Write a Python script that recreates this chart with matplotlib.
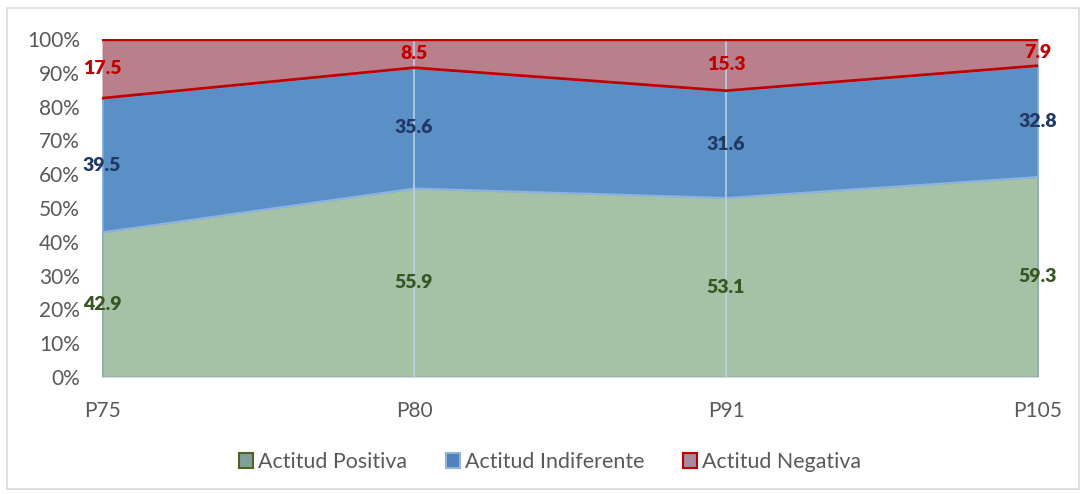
import matplotlib.pyplot as plt
import numpy as np
from matplotlib.patches import Rectangle

plt.rcParams['font.family'] = ['Lato', 'DejaVu Sans']

categorias = ['P75', 'P80', 'P91', 'P105']
positiva = [42.9, 55.9, 53.1, 59.3]
indiferente = [39.5, 35.6, 31.6, 32.8]
negativa = [17.5, 8.5, 15.3, 7.9]
series = ['Actitud Positiva', 'Actitud Indiferente', 'Actitud Negativa']

x = np.arange(len(categorias))
pos = np.array(positiva)
ind = np.array(indiferente)
neg = np.array(negativa)
total = pos + ind + neg
p_pos = pos / total * 100
p_ind = ind / total * 100
p_neg = neg / total * 100
c1 = p_pos
c2 = c1 + p_ind
c3 = c2 + p_neg

fig = plt.figure(figsize=(10.84, 4.94), dpi=100)
ax = fig.add_axes([102 / 1084, 1 - 377 / 494, (1038 - 102) / 1084, (377 - 39) / 494])

# borde del gráfico
fig.patches.append(Rectangle((7 / 1084, 5 / 494), 1072 / 1084, 481 / 494,
                             transform=fig.transFigure, fill=False,
                             edgecolor='#d9d9d9', linewidth=1.2))

ax.fill_between(x, 0, c1, color='#a6c2a6', edgecolor='#8fa8a8', linewidth=1.5, zorder=2)
ax.fill_between(x, c1, c2, color='#5b90c6', edgecolor='#8db3e2', linewidth=1.5, zorder=2)
ax.fill_between(x, c2, c3, color='#b97f8b', linewidth=0, zorder=2)
ax.plot(x, c2, color='#c00000', linewidth=2, zorder=4)
ax.plot(x, c3, color='#c00000', linewidth=2.5, zorder=4)

for xi in x[1:-1]:
    ax.axvline(xi, color='#b8cfe6', linewidth=1.2, zorder=3)

for i in range(len(x)):
    ax.text(x[i], c1[i] / 2, f'{positiva[i]:.1f}', ha='center', va='center',
            color='#375623', fontsize=14, fontweight='heavy', zorder=5)
    ax.text(x[i], (c1[i] + c2[i]) / 2, f'{indiferente[i]:.1f}', ha='center', va='center',
            color='#1f3864', fontsize=14, fontweight='heavy', zorder=5)
    ax.text(x[i], (c2[i] + c3[i]) / 2, f'{negativa[i]:.1f}', ha='center', va='center',
            color='#c00000', fontsize=14, fontweight='heavy', zorder=5)

ax.set_xlim(0, len(x) - 1)
ax.set_ylim(0, 100)
ax.set_yticks(np.arange(0, 101, 10))
ax.set_yticklabels([f'{v}%' for v in range(0, 101, 10)])
ax.set_xticks(x)
ax.set_xticklabels(categorias)
ax.tick_params(axis='both', length=0, labelsize=15, labelcolor='#595959')
ax.tick_params(axis='x', pad=17)
ax.tick_params(axis='y', pad=16)
for s in ['top', 'right', 'left']:
    ax.spines[s].set_visible(False)
ax.spines['bottom'].set_color('#d9d9d9')
ax.spines['bottom'].set_zorder(6)

handles = [
    Rectangle((0, 0), 1, 1, facecolor='#7f9f9a', edgecolor='#4f6228', linewidth=1.5),
    Rectangle((0, 0), 1, 1, facecolor='#4f81bd', edgecolor='#95b3d7', linewidth=1.5),
    Rectangle((0, 0), 1, 1, facecolor='#a58aa0', edgecolor='#c00000', linewidth=1.5),
]
leg = fig.legend(handles, series, loc='center', bbox_to_anchor=(0.5 + 8 / 1084, 1 - 462 / 494),
                 ncol=3, frameon=False, fontsize=15.4, handlelength=0.65, handleheight=0.65,
                 handletextpad=0.25, columnspacing=1.8)
for t in leg.get_texts():
    t.set_color('#595959')

fig.savefig('out.png', dpi=100)
